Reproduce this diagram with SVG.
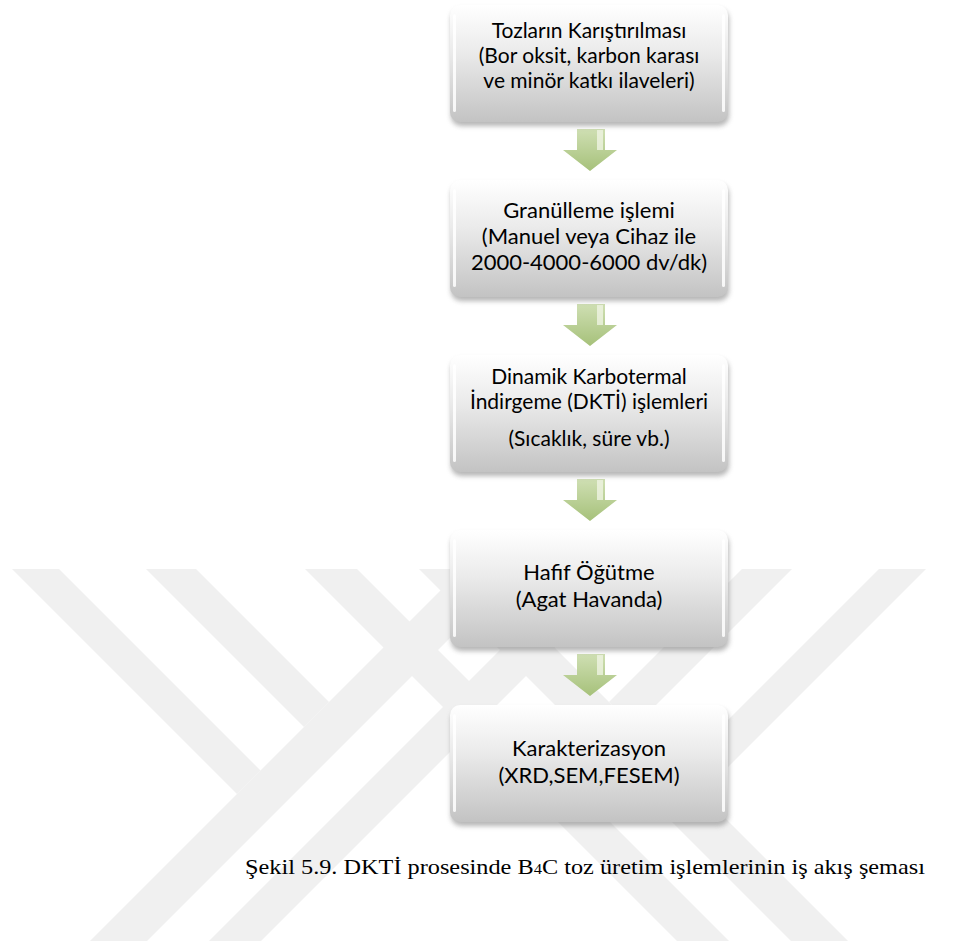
<svg xmlns="http://www.w3.org/2000/svg" width="979" height="941" viewBox="0 0 979 941">
<defs>
  <linearGradient id="boxg" x1="0" y1="0" x2="0" y2="1">
    <stop offset="0" stop-color="#ffffff"/>
    <stop offset="0.4" stop-color="#ebebeb"/>
    <stop offset="1" stop-color="#c3c3c3"/>
  </linearGradient>
  <linearGradient id="arrg" x1="0" y1="0" x2="0" y2="1">
    <stop offset="0" stop-color="#cfdfb3"/>
    <stop offset="1" stop-color="#a6c17a"/>
  </linearGradient>
  <filter id="sh" x="-10%" y="-10%" width="120%" height="130%">
    <feGaussianBlur stdDeviation="2.5"/>
  </filter>
</defs>
<style>
  .wm{fill:#f0f0f0}
  .box{fill:url(#boxg)}
  .shadow{fill:#7a7a7a;opacity:0.55;filter:url(#sh)}
  .hl{fill:#ffffff;opacity:0.85}
  .t{font-family:Lato,'Open Sans',sans-serif;font-size:22px;fill:#000000;text-anchor:middle}
  .s{font-size:21px}
  .cap{font-family:'Liberation Serif',serif;font-size:22px;fill:#000000}
  .arr{fill:url(#arrg)}
  .arrhl{fill:#f1f6e7;opacity:0.75}
</style>
<rect x="0" y="0" width="979" height="941" fill="#ffffff"/>
<g id="watermark">
  <polygon class="wm" points="12,569 59,569 260.5,770.5 237,794"/>
  <polygon class="wm" points="146,569 196,569 329,702 304,727"/>
  <polygon class="wm" points="462,569 519,569 147,941 90,941"/>
  <polygon class="wm" points="581,569 633,569 261,941 209,941"/>
  <polygon class="wm" points="926,569 879,569 677.5,770.5 701,794"/>
  <polygon class="wm" points="792,569 742,569 609,702 634,727"/>
  <polygon class="wm" points="476,569 419,569 791,941 848,941"/>
  <polygon class="wm" points="357,569 305,569 677,941 729,941"/>
</g>
<g id="connectors">
  <path class="arr" d="M577,129 H605 V150 H617 L590,171 L563,150 H577 Z"/>
  <rect class="arrhl" x="597" y="130" width="6" height="20"/>
  <path class="arr" d="M577,304 H605 V325 H617 L590,346 L563,325 H577 Z"/>
  <rect class="arrhl" x="597" y="305" width="6" height="20"/>
  <path class="arr" d="M577,479 H605 V500 H617 L590,521 L563,500 H577 Z"/>
  <rect class="arrhl" x="597" y="480" width="6" height="20"/>
  <path class="arr" d="M577,654 H605 V675 H617 L590,696 L563,675 H577 Z"/>
  <rect class="arrhl" x="597" y="655" width="6" height="20"/>
</g>
<g id="n1">
  <rect class="shadow" x="451" y="9" width="278" height="117" rx="10"/>
  <rect class="box" x="450" y="5" width="278" height="117" rx="10"/>
  <rect class="hl" x="453" y="14" width="3" height="98" rx="1.5"/>
  <rect class="hl" x="722" y="14" width="3" height="98" rx="1.5"/>
  <text class="t s" x="589" y="38">Tozların Karıştırılması</text>
  <text class="t s" x="589" y="63">(Bor oksit, karbon karası</text>
  <text class="t s" x="589" y="88">ve minör katkı ilaveleri)</text>
</g>
<g id="n2">
  <rect class="shadow" x="451" y="184" width="278" height="117" rx="10"/>
  <rect class="box" x="450" y="180" width="278" height="117" rx="10"/>
  <rect class="hl" x="453" y="189" width="3" height="98" rx="1.5"/>
  <rect class="hl" x="722" y="189" width="3" height="98" rx="1.5"/>
  <text class="t" x="589" y="218">Granülleme işlemi</text>
  <text class="t" x="589" y="244">(Manuel veya Cihaz ile</text>
  <text class="t" x="589" y="270">2000-4000-6000 dv/dk)</text>
</g>
<g id="n3">
  <rect class="shadow" x="451" y="359" width="278" height="117" rx="10"/>
  <rect class="box" x="450" y="355" width="278" height="117" rx="10"/>
  <rect class="hl" x="453" y="364" width="3" height="98" rx="1.5"/>
  <rect class="hl" x="722" y="364" width="3" height="98" rx="1.5"/>
  <text class="t s" x="589" y="384">Dinamik Karbotermal</text>
  <text class="t s" x="589" y="409">İndirgeme (DKTİ) işlemleri</text>
  <text class="t s" x="589" y="446">(Sıcaklık, süre vb.)</text>
</g>
<g id="n4">
  <rect class="shadow" x="451" y="534" width="278" height="117" rx="10"/>
  <rect class="box" x="450" y="530" width="278" height="117" rx="10"/>
  <rect class="hl" x="453" y="539" width="3" height="98" rx="1.5"/>
  <rect class="hl" x="722" y="539" width="3" height="98" rx="1.5"/>
  <text class="t" x="589" y="580">Hafif Öğütme</text>
  <text class="t" x="589" y="607">(Agat Havanda)</text>
</g>
<g id="n5">
  <rect class="shadow" x="451" y="709" width="278" height="117" rx="10"/>
  <rect class="box" x="450" y="705" width="278" height="117" rx="10"/>
  <rect class="hl" x="453" y="714" width="3" height="98" rx="1.5"/>
  <rect class="hl" x="722" y="714" width="3" height="98" rx="1.5"/>
  <text class="t" x="589" y="756">Karakterizasyon</text>
  <text class="t" x="589" y="783">(XRD,SEM,FESEM)</text>
</g>
<g id="caption">
  <text class="cap" x="245" y="874" textLength="680" lengthAdjust="spacingAndGlyphs">Şekil 5.9. DKTİ prosesinde B<tspan font-size="15">4</tspan>C toz üretim işlemlerinin iş akış şeması</text>
</g>
</svg>
